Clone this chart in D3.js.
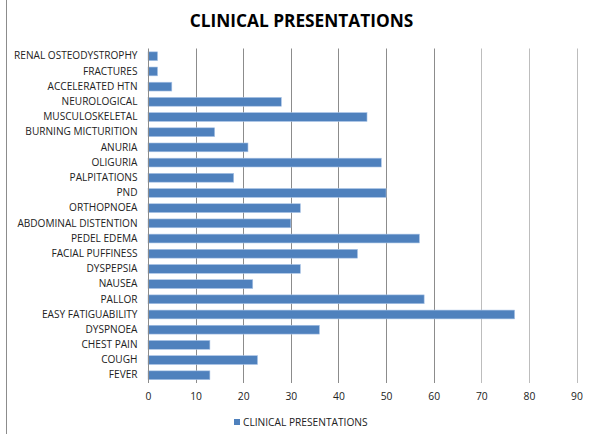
<!DOCTYPE html>
<html><head><meta charset="utf-8">
<script src="https://cdn.jsdelivr.net/npm/d3@7"></script>
<style>body{margin:0;background:#fff}svg{display:block}</style>
</head><body>
<svg id="c" width="590" height="434"></svg>
<script>
const categories = ["RENAL OSTEODYSTROPHY","FRACTURES","ACCELERATED HTN","NEUROLOGICAL","MUSCULOSKELETAL","BURNING MICTURITION","ANURIA","OLIGURIA","PALPITATIONS","PND","ORTHOPNOEA","ABDOMINAL DISTENTION","PEDEL EDEMA","FACIAL PUFFINESS","DYSPEPSIA","NAUSEA","PALLOR","EASY FATIGUABILITY","DYSPNOEA","CHEST PAIN","COUGH","FEVER"];
const values = [2,2,5,28,46,14,21,49,18,50,32,30,57,44,32,22,58,77,36,13,23,13];
const xTicks = [0,10,20,30,40,50,60,70,80,90];
const seriesName = "CLINICAL PRESENTATIONS";
const title = "CLINICAL PRESENTATIONS";

const svg = d3.select("#c");
const font = "'Open Sans', 'Liberation Sans', sans-serif";
const pl = 148, pr = 576.5, pt = 48.5, pb = 383;
const x = d3.scaleLinear().domain([0,90]).range([pl,pr]);
const y = d3.scaleBand().domain(categories).range([pt,pb]).paddingInner(0.42).paddingOuter(0.22);

// frame left border
svg.append("line").attr("x1",6.5).attr("x2",6.5).attr("y1",0).attr("y2",434).attr("stroke","#8c8c8c");

// gridlines
svg.append("g").selectAll("line").data(xTicks.slice(1)).join("line")
  .attr("x1",d=>Math.round(x(d))+0.5).attr("x2",d=>Math.round(x(d))+0.5)
  .attr("y1",pt).attr("y2",pb)
  .attr("stroke",d=>d>=70?"#bdbdbd":"#8c8c8c").attr("stroke-width",1);

// bars
svg.append("g").selectAll("rect").data(categories).join("rect")
  .attr("x",x(0)).attr("y",d=>y(d))
  .attr("width",(d,i)=>x(values[i])-x(0)).attr("height",y.bandwidth())
  .attr("fill","#4F81BD").attr("stroke","#a9c3e6").attr("stroke-width",0.6);

// y axis
const ya = svg.append("g").attr("transform",`translate(${pl+0.5},0)`).call(d3.axisLeft(y).tickSize(0).tickPadding(11));
ya.select(".domain").attr("stroke","#8c8c8c").attr("d",`M0,${pt}V${pb}`);
ya.selectAll("text").attr("font-family",font).attr("font-size","10.1px").attr("fill","#222");

// x axis labels
const xa = svg.append("g").attr("transform",`translate(0,${pb})`).call(d3.axisBottom(x).tickValues(xTicks).tickSize(0).tickPadding(10));
xa.select(".domain").remove();
xa.selectAll("text").attr("font-family",font).attr("font-size","10.3px").attr("fill","#222");

// title
svg.append("text").attr("x",301.5).attr("y",27).attr("text-anchor","middle")
  .attr("font-family",font).attr("font-weight","bold").attr("font-size","17.3px").attr("fill","#000").text(title);

// legend
const lg = svg.append("g").attr("transform","translate(234,419)");
lg.append("rect").attr("x",0).attr("y",0).attr("width",6).attr("height",6).attr("fill","#4F81BD");
lg.append("text").attr("x",9).attr("y",7).attr("font-family",font).attr("font-size","10.2px").attr("fill","#222").text(seriesName);
</script>
</body></html>
